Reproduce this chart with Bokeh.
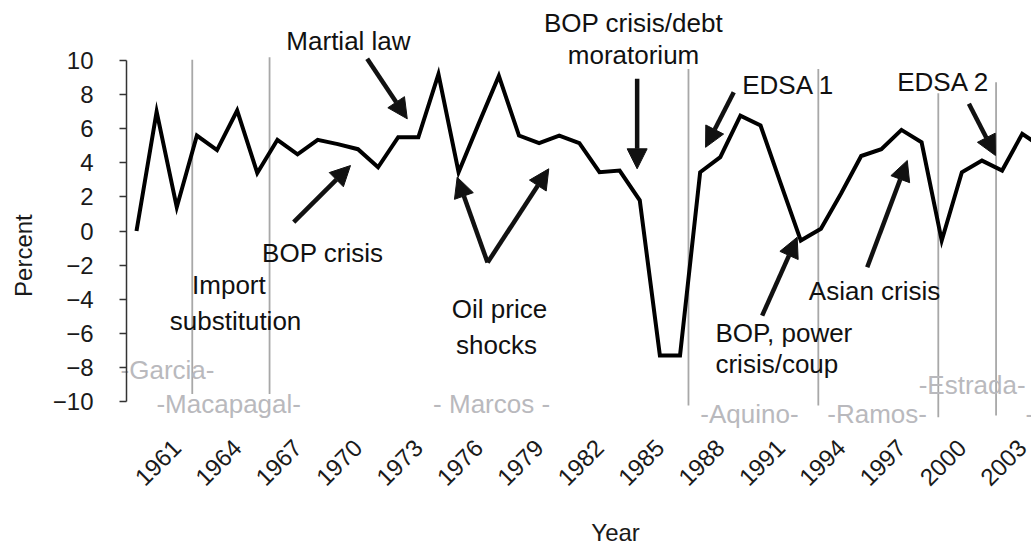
from bokeh.plotting import figure
from bokeh.models import (Range1d, FixedTicker, ColumnDataSource, Arrow, NormalHead)
from bokeh.core.properties import value
from bokeh.embed import file_html
from bokeh.resources import INLINE
import math

FONT = "Liberation Sans"

# ---------------- data ----------------
years = list(range(1959, 2005))
growth = [0.0, 7.0, 1.4, 5.6, 4.75, 7.07, 3.4, 5.35, 4.5, 5.35,
          5.1, 4.8, 3.74, 5.5, 5.5, 9.2, 3.45, 6.3, 9.1, 5.6,
          5.15, 5.6, 5.15, 3.45, 3.55, 1.8, -7.3, -7.3, 3.45, 4.33,
          6.77, 6.19, 2.8, -0.56, 0.13, 2.2, 4.4, 4.8, 5.93, 5.2,
          -0.56, 3.45, 4.13, 3.55, 5.7, 4.9]

x_tick_years = list(range(1961, 2004, 3))
y_ticks = list(range(-10, 11, 2))

# presidency boundaries (year position, line top, line bottom)
pres_x = [1961.77, 1965.61, 1986.42, 1992.87, 1998.83, 2001.70]
pres_top = [10.04, 10.19, 9.51, 9.51, 8.08, 8.73]
pres_bot = [-9.55, -9.55, -10.23, -10.23, -10.92, -10.82]

pres_names = ["-Garcia-", "-Macapagal-", "- Marcos -", "-Aquino-", "-Ramos-", "-Estrada-", "-Arroyo-"]
pres_lx = [1960.54, 1963.58, 1976.64, 1989.45, 1995.79, 2000.51, 2003.16]
pres_ly = [-8.67, -10.7, -10.69, -11.23, -11.23, -9.55, -11.23]
pres_align = ["center", "center", "center", "center", "center", "center", "left"]

# event annotations
ev_text = ["Martial law", "BOP crisis/debt", "moratorium", "EDSA 1", "EDSA 2",
           "BOP crisis", "Import", "substitution", "Oil price", "shocks",
           "BOP, power", "crisis/coup", "Asian crisis"]
ev_x = [1969.53, 1983.69, 1983.69, 1989.09, 1996.79,
        1965.24, 1963.59, 1963.92, 1977.03, 1976.88,
        1987.76, 1987.76, 1992.40]
ev_y = [10.59, 11.66, 9.81, 8.05, 8.24,
        -1.83, -3.68, -5.78, -5.09, -7.24,
        -6.52, -8.34, -4.04]
ev_align = ["center", "center", "center", "left", "left",
            "left", "center", "center", "center", "center",
            "left", "left", "left"]

# arrows: (x_start, y_start, x_end, y_end) in data units
arrows = [
    (1970.46, 10.10, 1972.45, 6.58),   # martial law
    (1966.81, 0.52, 1969.63, 3.84),    # BOP crisis
    (1976.44, -1.85, 1974.93, 3.16),   # oil 1
    (1976.44, -1.85, 1979.48, 3.65),   # oil 2
    (1983.87, 8.93, 1983.87, 3.65),    # BOP/debt
    (1988.67, 8.14, 1987.27, 4.91),    # EDSA 1
    (1990.08, -4.96, 1991.82, -0.36),  # BOP power
    (1995.30, -2.12, 1997.29, 4.14),   # Asian crisis
    (2000.35, 7.46, 2001.67, 4.43),    # EDSA 2
]

# axis positions (data units)
Y_AXIS_AT = 1958.503
X_AXIS_AT = -11.82
TXT_SHIFT = -9  # px, baseline correction

# ---------------- figure ----------------
p = figure(width=1031, height=546, output_backend="svg", toolbar_location=None,
           x_range=Range1d(1952.244, 2003.46), y_range=Range1d(-18.50, 13.52),
           min_border_left=0, min_border_right=0, min_border_top=0, min_border_bottom=0)
p.outline_line_color = None
p.background_fill_color = "white"
p.border_fill_color = "white"
p.xgrid.visible = False
p.ygrid.visible = False

# y axis
ya = p.yaxis[0]
ya.fixed_location = Y_AXIS_AT
ya.ticker = FixedTicker(ticks=y_ticks)
ya.bounds = (-10, 10)
ya.major_label_overrides = {t: (str(t) if t >= 0 else "\u2212" + str(-t)) for t in y_ticks}
ya.major_label_text_font = FONT
ya.major_label_text_font_size = "24px"
ya.major_label_text_color = "#1a1a1a"
ya.major_label_standoff = 26
ya.major_tick_out = 7
ya.major_tick_in = 0
ya.minor_tick_line_color = None
ya.axis_line_color = "#333333"
ya.axis_line_width = 1.5
ya.major_tick_line_color = "#333333"
ya.major_tick_line_width = 1.5

# x axis
xa = p.xaxis[0]
xa.fixed_location = X_AXIS_AT
xa.ticker = FixedTicker(ticks=x_tick_years)
xa.major_label_orientation = math.pi / 4
xa.major_label_text_font = FONT
xa.major_label_text_font_size = "24px"
xa.major_label_text_color = "#1a1a1a"
xa.major_label_standoff = 5
xa.axis_line_color = None
xa.major_tick_line_color = None
xa.minor_tick_line_color = None

# presidency lines
p.segment(x0=pres_x, y0=pres_bot, x1=pres_x, y1=pres_top, line_color="#a8a8a8", line_width=1.8)

# data line
p.line(years, growth, line_color="black", line_width=4, line_join="miter")

# presidency names
psrc = ColumnDataSource(dict(x=pres_lx, y=pres_ly, t=pres_names, a=pres_align))
p.text(x="x", y="y", text="t", text_align="a", source=psrc, text_baseline="alphabetic",
       y_offset=TXT_SHIFT, text_font=value(FONT), text_font_size="26px", text_color="#b9b9bd")

# event labels
src = ColumnDataSource(dict(x=ev_x, y=ev_y, t=ev_text, a=ev_align))
p.text(x="x", y="y", text="t", text_align="a", source=src, text_baseline="alphabetic",
       y_offset=TXT_SHIFT, text_font=value(FONT), text_font_size="26px", text_color="#111111")

for (xs, ys, xe, ye) in arrows:
    p.add_layout(Arrow(x_start=xs, y_start=ys, x_end=xe, y_end=ye, line_width=4.5, line_color="#111111",
                       end=NormalHead(size=20, fill_color="#111111", line_color="#111111", line_width=1)))

# axis titles
p.text(x=[1953.39], y=[-1.44], text=["Percent"], angle=math.pi / 2, text_align="center",
       text_baseline="middle", text_font=value(FONT), text_font_size="24px", text_color="#1a1a1a")
p.text(x=[1982.8], y=[-18.21], text=["Year"], text_align="center", text_baseline="alphabetic",
       y_offset=TXT_SHIFT, text_font=value(FONT), text_font_size="24px", text_color="#1a1a1a")

open("out.html", "w").write(file_html(p, INLINE))
